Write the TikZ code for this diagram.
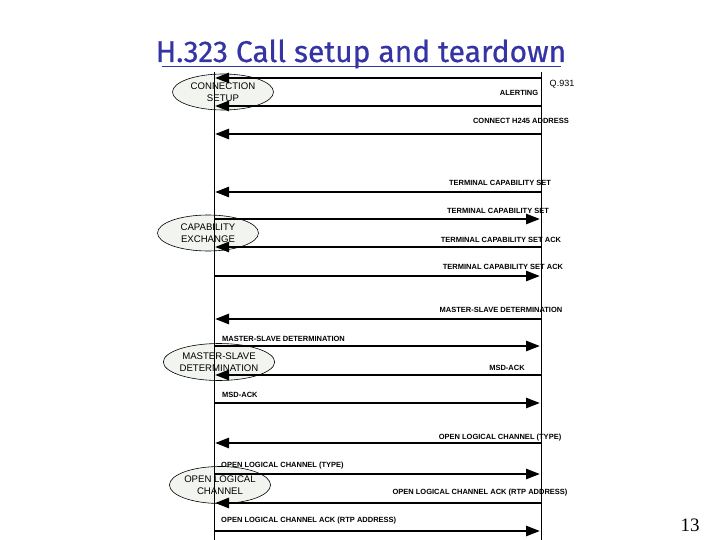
\documentclass[tikz,border=0pt]{standalone}
\usepackage{fontspec}
\setmainfont{Liberation Sans}
\newfontfamily\titlefont[FakeBold=0.6]{Fira Sans}
\newfontfamily\numfont{Liberation Serif}
\usetikzlibrary{arrows.meta,shapes.geometric}
\definecolor{titleblue}{HTML}{3434A4}
\definecolor{ellfill}{HTML}{F1F4EF}
\begin{document}
\begin{tikzpicture}[x=1pt,y=-1pt,
  lifeline/.style={line width=0.9pt},
  msg/.style={line width=2.6pt,-{Triangle[length=14pt,width=10pt]},shorten >=1pt},
  lbl/.style={font=\fontsize{7.5}{8}\selectfont\bfseries,inner sep=0pt},
  phase/.style={ellipse,draw,line width=0.6pt,fill=ellfill,minimum width=101pt,minimum height=36pt,inner sep=0pt,align=center,font=\fontsize{9.6}{11.5}\selectfont}]
\useasboundingbox (0,0) rectangle (720,540);
% title
\node[font=\titlefont\fontsize{30}{34}\selectfont,text=titleblue,inner sep=0pt,anchor=base] (title) at (361,62) {H.323 Call setup and teardown};
\draw[titleblue,line width=1.6pt] (162,66.5) -- (561,66.5);
% phase ellipses (behind)
\node[phase] (e1) at (223,92) {CONNECTION\\SETUP};
\node[phase] (e2) at (208,233) {CAPABILITY\\EXCHANGE};
\node[phase,minimum height=37pt] (e3) at (219,362) {MASTER-SLAVE\\DETERMINATION};
\node[phase,minimum height=37pt] (e4) at (220,485) {OPEN LOGICAL\\CHANNEL};
% lifelines
\coordinate (Ltop) at (214,72); \coordinate (Lbot) at (214,540);
\coordinate (Rtop) at (541,72); \coordinate (Rbot) at (541,540);
\draw[lifeline] (Ltop) -- (Lbot);
\draw[lifeline] (Rtop) -- (Rbot);
% message end points
\foreach \n/\y in {1/78,2/106,3/134,4/192,5/219,6/247,7/276,8/319,9/346,10/375,11/403,12/443,13/474,14/503,15/531}{
  \coordinate (L\n) at (214,\y);
  \coordinate (R\n) at (541,\y);
}
% messages
\draw[msg] (R1) -- (L1);
\draw[msg] (R2) -- (L2);
\draw[msg] (R3) -- (L3);
\draw[msg] (R4) -- (L4);
\draw[msg] (L5) -- (R5);
\draw[msg] (R6) -- (L6);
\draw[msg] (L7) -- (R7);
\draw[msg] (R8) -- (L8);
\draw[msg] (L9) -- (R9);
\draw[msg] (R10) -- (L10);
\draw[msg] (L11) -- (R11);
\draw[msg] (R12) -- (L12);
\draw[msg] (L13) -- (R13);
\draw[msg] (R14) -- (L14);
\draw[msg] (L15) -- (R15);
% labels
\node[font=\fontsize{9}{10}\selectfont,inner sep=0pt] (q931) at (562,84) {Q.931};
\node[lbl] (t1) at (519,93) {ALERTING};
\node[lbl] (t2) at (521,121) {CONNECT H245 ADDRESS};
\node[lbl] (t3) at (500,183) {TERMINAL CAPABILITY SET};
\node[lbl] (t4) at (498,211) {TERMINAL CAPABILITY SET};
\node[lbl] (t5) at (501,240) {TERMINAL CAPABILITY SET ACK};
\node[lbl] (t6) at (503,267) {TERMINAL CAPABILITY SET ACK};
\node[lbl] (t7) at (501,310) {MASTER-SLAVE DETERMINATION};
\node[lbl,anchor=west] (t8) at (222,339) {MASTER-SLAVE DETERMINATION};
\node[lbl] (t9) at (507,368) {MSD-ACK};
\node[lbl,anchor=west] (t10) at (222,395) {MSD-ACK};
\node[lbl] (t11) at (500,438) {OPEN LOGICAL CHANNEL (TYPE)};
\node[lbl,anchor=west] (t12) at (221,466) {OPEN LOGICAL CHANNEL (TYPE)};
\node[lbl] (t13) at (480,493) {OPEN LOGICAL CHANNEL ACK (RTP ADDRESS)};
\node[lbl,anchor=west] (t14) at (221,521) {OPEN LOGICAL CHANNEL ACK (RTP ADDRESS)};
% page number
\node[font=\numfont\fontsize{19}{22}\selectfont,inner sep=0pt] (pg) at (690,525) {13};
\end{tikzpicture}
\end{document}
